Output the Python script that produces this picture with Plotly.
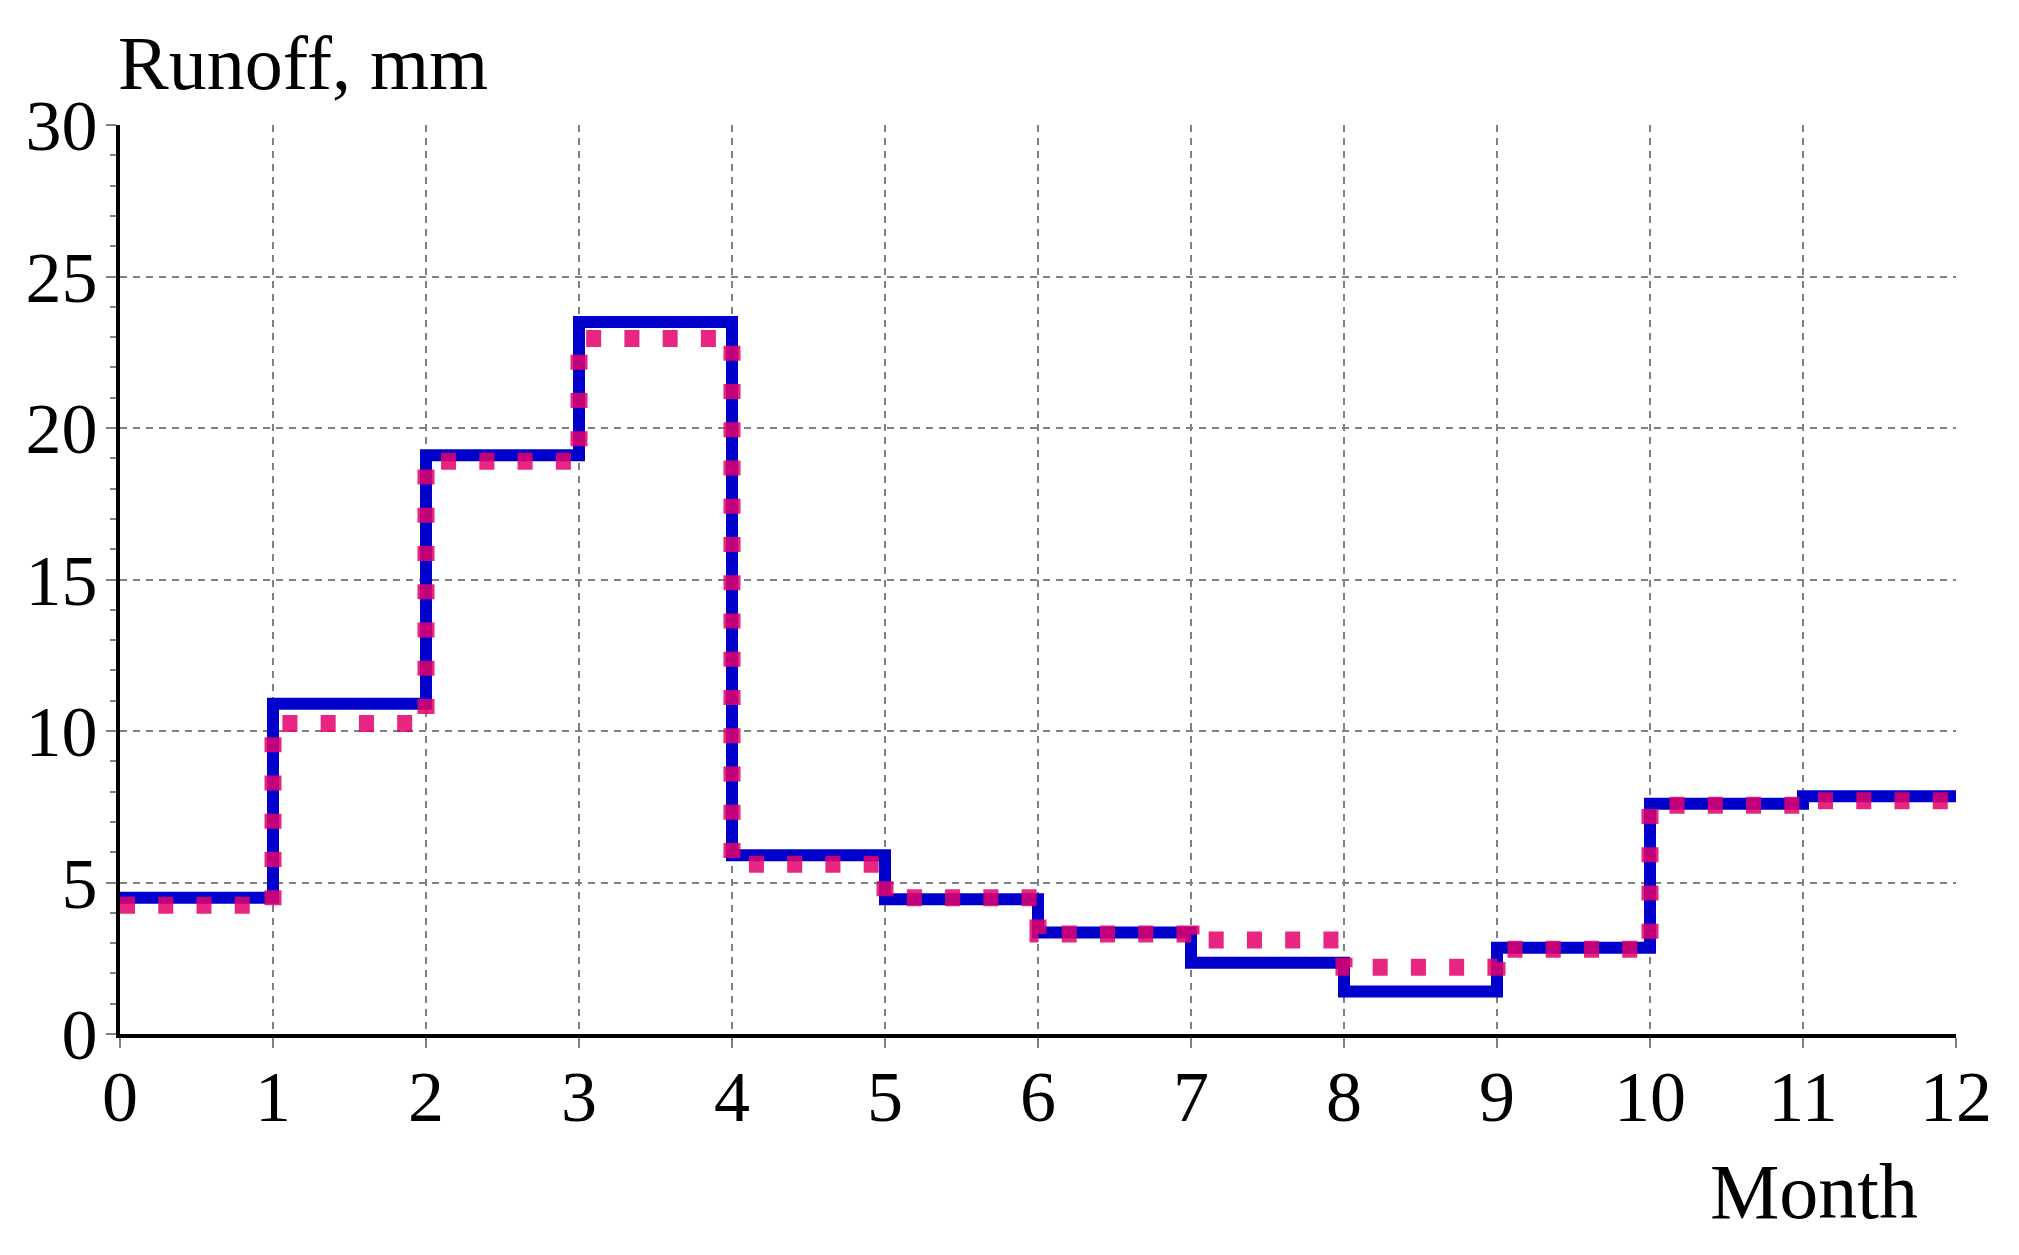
import plotly.graph_objects as go

# month boundaries (0..12) and monthly runoff, mm
months = list(range(13))
runoff_observed = [4.5, 10.9, 19.1, 23.5, 5.9, 4.45, 3.35, 2.35, 1.4, 2.85, 7.6, 7.85]
runoff_simulated = [4.25, 10.25, 18.9, 22.95, 5.6, 4.5, 3.3, 3.1, 2.2, 2.8, 7.55, 7.7]

x_ticks = list(range(0, 13))
y_ticks = [0, 5, 10, 15, 20, 25, 30]

FONT = "Liberation Serif"
GRID = dict(showgrid=True, gridcolor="#808080", gridwidth=1.5, griddash="7px,6px")

fig = go.Figure()

# step lines: repeat the last value so the final month is drawn to 12
fig.add_trace(go.Scatter(x=months, y=runoff_observed + [runoff_observed[-1]],
                         mode="lines", line_shape="hv",
                         line=dict(color="#0000cd", width=12),
                         showlegend=False))
fig.add_trace(go.Scatter(x=months, y=runoff_simulated + [runoff_simulated[-1]],
                         mode="lines", line_shape="hv", opacity=0.85,
                         line=dict(color="#e4006c", width=17, dash="15px,23.25px"),
                         showlegend=False))

fig.update_xaxes(range=[0, 12], tickvals=x_ticks, ticktext=[str(v) for v in x_ticks],
                 ticks="outside", ticklen=10, tickcolor="#808080", tickwidth=1.5,
                 ticklabelstandoff=-13,
                 showline=True, linecolor="black", linewidth=4, zeroline=False, automargin=False,
                 tickfont=dict(family=FONT, size=72, color="black"), **GRID)
fig.update_yaxes(range=[0, 30], tickvals=y_ticks, ticktext=[str(v) for v in y_ticks],
                 ticks="outside", ticklen=10, tickcolor="#808080", tickwidth=1.5,
                 ticklabelstandoff=-6,
                 minor=dict(dtick=1, ticks="outside", ticklen=6, tickcolor="#808080", showgrid=False),
                 showline=True, linecolor="black", linewidth=4, zeroline=False, automargin=False,
                 tickfont=dict(family=FONT, size=72, color="black"), **GRID)

fig.add_annotation(text="Runoff, mm", xref="paper", yref="paper", x=0, y=1,
                   xanchor="left", yanchor="bottom", xshift=-4, yshift=18, showarrow=False,
                   font=dict(family=FONT, size=76, color="black"))
fig.add_annotation(text="Month", xref="paper", yref="paper", x=1, y=0,
                   xanchor="right", yanchor="top", xshift=-36, yshift=-112, showarrow=False,
                   font=dict(family=FONT, size=78, color="black"))

# the page body adds an 8px offset, so margins are shifted to compensate
fig.update_layout(width=2019, height=1255, plot_bgcolor="white", paper_bgcolor="white",
                  margin=dict(l=112, r=71, t=117, b=229))

fig.write_html("out.html")
